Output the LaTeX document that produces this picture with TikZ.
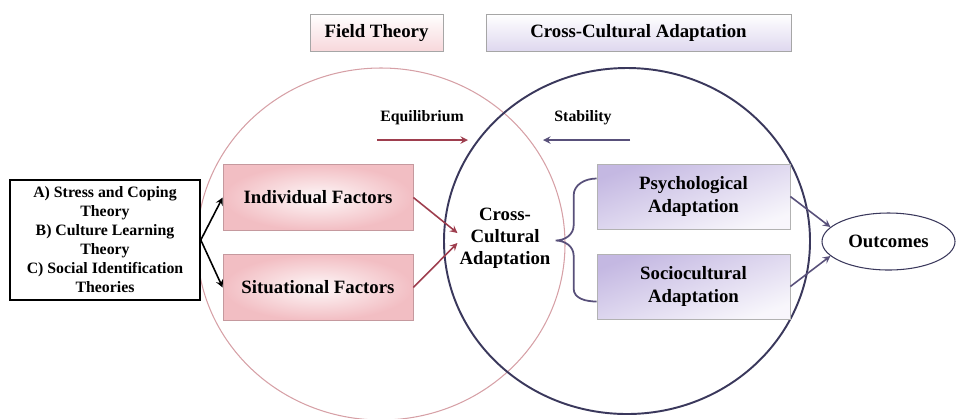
\documentclass[tikz,border=0pt]{standalone}
\usepackage{fontspec}
\setmainfont{Liberation Serif}
\usetikzlibrary{shapes.geometric}
\definecolor{rosefill}{RGB}{238,168,175}
\definecolor{roseline}{RGB}{214,160,166}
\definecolor{rosearrow}{RGB}{158,62,78}
\definecolor{lavfill}{RGB}{196,184,226}
\definecolor{slateline}{RGB}{58,56,92}
\definecolor{slatearrow}{RGB}{88,80,122}

\begin{document}
\begin{tikzpicture}[>=stealth, font=\bfseries\fontsize{10.7}{12.6}\selectfont, x=1cm, y=1cm]
  \tikzset{
    title/.style={draw=gray!70, minimum height=0.74cm, inner sep=2pt},
    factor/.style={draw=roseline!80!gray, inner color=rosefill!8, outer color=rosefill!75, minimum width=3.8cm, minimum height=1.32cm},
    adapt/.style={draw=gray!60, top color=lavfill, bottom color=lavfill!12, shading angle=20, minimum width=3.86cm, minimum height=1.3cm, align=center},
    small/.style={font=\bfseries\fontsize{9}{10.8}\selectfont},
    link/.style={->, line width=0.9pt}
  }
  \useasboundingbox (0,0) rectangle (19.2,-8.36);
  \clip (0,0) rectangle (19.2,-8.36);

  \draw[roseline, line width=0.6pt] (7.62,-4.88) ellipse [x radius=3.68, y radius=3.52];
  \draw[slateline, line width=1.1pt] (12.54,-4.82) ellipse [x radius=3.66, y radius=3.46];

  \node[title, top color=white, bottom color=rosefill!45, minimum width=2.66cm] (field) at (7.53,-0.65) {Field Theory};
  \node[title, top color=white, bottom color=lavfill!55, minimum width=6.1cm] (ccatitle) at (12.77,-0.65) {Cross-Cultural Adaptation};

  \node[small] (equil) at (8.44,-2.36) {Equilibrium};
  \node[small] (stab) at (11.66,-2.36) {Stability};
  \coordinate (eq-a) at (7.54,-2.8);
  \coordinate (eq-b) at (9.36,-2.8);
  \coordinate (st-a) at (12.6,-2.8);
  \coordinate (st-b) at (10.86,-2.8);
  \draw[link, rosearrow] (eq-a) -- (eq-b);
  \draw[link, slatearrow] (st-a) -- (st-b);

  \node[small, draw, line width=0.9pt, fill=white, minimum width=3.8cm, minimum height=2.4cm, align=center, inner sep=1pt] (theories) at (2.1,-4.8)
    {A) Stress and Coping\\Theory\\B) Culture Learning\\Theory\\C) Social Identification\\Theories};

  \node[factor] (indiv) at (6.36,-3.95) {Individual Factors};
  \node[factor] (situ) at (6.36,-5.75) {Situational Factors};
  \draw[link] (theories.east) -- (indiv.west);
  \draw[link] (theories.east) -- (situ.west);

  \node[align=center, inner sep=1pt] (cca) at (10.1,-4.76) {Cross-\\Cultural\\Adaptation};
  \draw[link, rosearrow] (indiv.east) -- (cca.174);
  \draw[link, rosearrow] (situ.east) -- (cca.186);

  \node[adapt] (psych) at (13.87,-3.93) {Psychological\\Adaptation};
  \node[adapt] (socio) at (13.87,-5.73) {Sociocultural\\Adaptation};
  \draw[slatearrow, line width=1pt] ([yshift=0.36cm]psych.west) to[out=180,in=90] ++(-0.46,-0.34) -- ++(0,-0.6)
    to[out=-90,in=0] ++(-0.36,-0.3) to[out=0,in=90] ++(0.36,-0.3) -- ++(0,-0.66)
    to[out=-90,in=180] ([yshift=-0.3cm]socio.west);

  \node[ellipse, draw=slateline, line width=0.6pt, minimum width=2.66cm, minimum height=1.14cm, inner sep=0pt] (outc) at (17.77,-4.83) {Outcomes};
  \draw[link, slatearrow] (psych.east) -- (outc.166);
  \draw[link, slatearrow] (socio.east) -- (outc.194);
\end{tikzpicture}
\end{document}
